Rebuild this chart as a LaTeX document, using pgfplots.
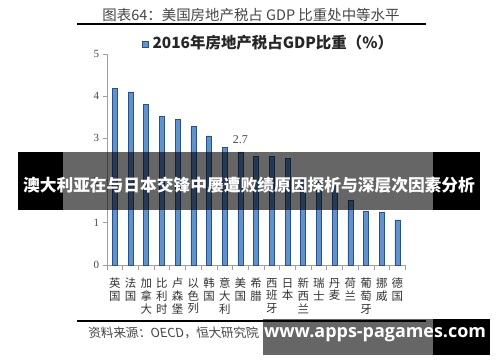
\documentclass[border=0pt]{standalone}
\usepackage{fontspec}
\setmainfont{Liberation Serif}
\newfontfamily\cjk{Noto Sans CJK SC}
\newfontfamily\osans{Open Sans}
\usepackage{pgfplots}
\pgfplotsset{compat=1.18}
\definecolor{barfill}{RGB}{98,146,204}
\definecolor{baredge}{RGB}{38,82,140}
\definecolor{axgray}{RGB}{160,160,160}
\definecolor{txtgray}{RGB}{70,70,70}
\begin{document}
\begin{tikzpicture}[x=1bp,y=1bp]
\useasboundingbox (0,0) rectangle (500,362);
\fill[white] (0,0) rectangle (500,362);
% title
\node[font=\cjk\fontsize{14.5}{16}\selectfont, text=txtgray] at (251,347) {图表64：美国房地产税占 GDP 比重处中等水平};
\draw[line width=1.8bp] (77,337.7) -- (426,337.7);
% legend
\fill[barfill] (142,315) rectangle (148,321);
\draw[baredge, line width=0.5bp] (142,315) rectangle (148,321);
\node[anchor=west, font=\cjk\bfseries\fontsize{15.5}{17}\selectfont, text=black!85] at (149,319) {2016年房地产税占GDP比重（\%）};
\begin{axis}[
  at={(107bp,97bp)}, anchor=south west,
  scale only axis, width=298.3bp, height=211bp,
  xmin=-0.5, xmax=18.5, ymin=0, ymax=5,
  axis x line*=bottom, axis y line*=left,
  axis line style={axgray, line width=0.8bp},
  tick align=outside,
  major tick length=4.5bp,
  tick style={axgray, line width=0.7bp},
  xtick={-0.5,0.5,...,18.5}, xticklabels={},
  extra x ticks={0,1,...,18},
  extra x tick style={major tick length=0pt},
  extra x tick labels={{英\\国},{法\\国},{加\\拿\\大},{比\\利\\时},{卢\\森\\堡},{以\\色\\列},{韩\\国},{意\\大\\利},{美\\国},{希\\腊},{西\\班\\牙},{日\\本},{新\\西\\兰},{瑞\\士},{丹\\麦},{荷\\兰},{葡\\萄\\牙},{挪\\威},{德\\国}},
  xticklabel style={font=\cjk\fontsize{11.5}{12.8}\selectfont, align=center, text=black!80, inner sep=0pt, yshift=-13bp},
  ytick={0,1,...,5},
  yticklabel style={font=\fontsize{11}{13}\selectfont, text=txtgray},
  /pgf/number format/assume math mode=true,
  ybar, bar width=5bp,
  clip=false,
]
\addplot[fill=barfill, draw=baredge, line width=0.6bp] coordinates {
(0,4.19) (1,4.10) (2,3.80) (3,3.53) (4,3.45) (5,3.29) (6,3.06) (7,2.79) (8,2.68) (9,2.57) (10,2.57) (11,2.53) (12,2.02) (13,1.98) (14,1.92) (15,1.54) (16,1.28) (17,1.24) (18,1.07)};
\node[font=\fontsize{12}{14}\selectfont, text=txtgray] at (axis cs:8,2.98) {2.7};
\end{axis}
% bottom rule and source
\draw[line width=1.8bp] (77,41.3) -- (426,41.3);
\node[anchor=west, font=\cjk\fontsize{12.5}{14}\selectfont, text=txtgray, xslant=-0.15] at (85,29) {资料来源：OECD，恒大研究院};
% overlay banner 1
\fill[black, opacity=0.6] (63,152) rectangle (433,210);
\fill[black] (18,152) rectangle (63,210);
\fill[black] (433,152) rectangle (480,210);
\node[font=\cjk\bfseries\fontsize{16.8}{18}\selectfont, text=white] at (249,177) {澳大利亚在与日本交锋中屡遭败绩原因探析与深层次因素分析};
% overlay banner 2
\fill[black, opacity=0.6] (263,7) rectangle (433,43);
\fill[black] (433,7) rectangle (490,43);
\node[font=\osans\bfseries\fontsize{18}{20}\selectfont, text=white] at (375,27) {www.apps-pagames.com};
\end{tikzpicture}
\end{document}
